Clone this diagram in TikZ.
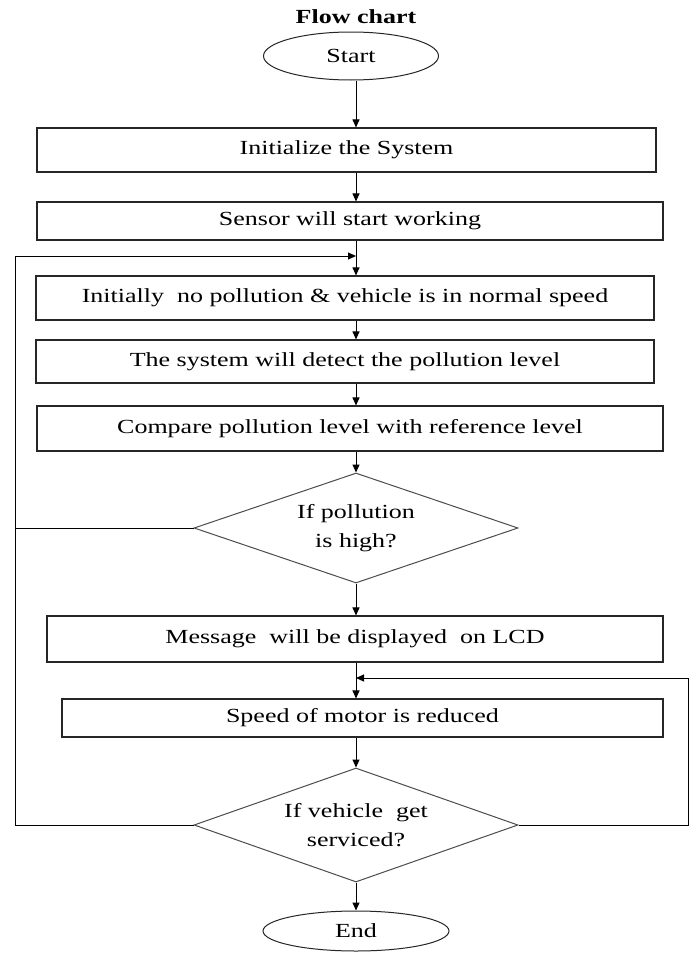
\documentclass[tikz,border=0pt]{standalone}
\usepackage{fontspec}
\setmainfont{Liberation Serif}[FakeStretch=1.3]
\usetikzlibrary{shapes.geometric,arrows.meta}

\tikzset{
  txt/.style={font=\fontsize{20}{29}\selectfont, inner sep=0pt, align=center},
  block/.style={txt, draw=black!85, line width=1.1pt, rectangle},
  oval/.style={txt, draw=black!85, line width=1pt, ellipse},
  decide/.style={txt, draw=black!70, line width=1pt, diamond, aspect=3},
  flow/.style={line width=1pt, -{Triangle[length=8pt,width=7pt]}},
  link/.style={line width=1pt}
}

\begin{document}
\begin{tikzpicture}[x=1pt, y=-1pt]
\fill[white] (0,0) rectangle (688,953);
\useasboundingbox (0,0) rectangle (688,953);
\coordinate (axis) at (356,0);
\coordinate (loopL) at (15,0);
\coordinate (loopR) at (688,0);
\coordinate (join1) at (356,256);
\coordinate (join2) at (356,678);
%Nodes
\node[txt, font=\fontsize{20}{22}\selectfont\bfseries] (title) at (356,17) {Flow chart};
\node[oval, minimum width=175pt, minimum height=48pt] (start) at (351,56) {Start};
\node[block, minimum width=619pt, minimum height=44pt] (init) at (346.5,150) {Initialize the System};
\node[block, minimum width=626pt, minimum height=38pt] (sensor) at (350,221) {Sensor will start working};
\node[block, minimum width=618pt, minimum height=44pt] (normal) at (345,298) {Initially \ no pollution \& vehicle is in normal speed};
\node[block, minimum width=618pt, minimum height=43pt] (detect) at (345,361.5) {The system will detect the pollution level};
\node[block, minimum width=626pt, minimum height=45pt] (compare) at (350,428.5) {Compare pollution level with reference level};
\node[decide, minimum width=324pt, minimum height=110pt] (dec1) at (356,528) {If pollution\\is high?};
\node[block, minimum width=616pt, minimum height=46pt] (msg) at (355,639) {Message \ will be displayed \ on LCD};
\node[block, minimum width=601pt, minimum height=38pt] (motor) at (362.5,718) {Speed of motor is reduced};
\node[decide, minimum width=324pt, minimum height=114pt] (dec2) at (356,825) {If vehicle \ get\\serviced?};
\node[oval, minimum width=186pt, minimum height=40pt] (end) at (356,931) {End};
%Arrows
\draw[flow] (start.south -| axis) -- (init.north -| axis);
\draw[flow] (init.south -| axis) -- (sensor.north -| axis);
\draw[flow] (sensor.south -| axis) -- (normal.north -| axis);
\draw[flow] (normal.south -| axis) -- (detect.north -| axis);
\draw[flow] (detect.south -| axis) -- (compare.north -| axis);
\draw[flow] (compare.south -| axis) -- (dec1.north);
\draw[flow] (dec1.south) -- (msg.north -| axis);
\draw[flow] (msg.south -| axis) -- (motor.north -| axis);
\draw[flow] (motor.south -| axis) -- (dec2.north);
\draw[flow] (dec2.south) -- (end.north);
%Loops
\draw[link] (dec1.west) -- (dec1.west -| loopL);
\draw[flow] (dec2.west) -- (dec2.west -| loopL) |- (join1);
\draw[flow] (dec2.east) -- (dec2.east -| loopR) |- (join2);
\end{tikzpicture}
\end{document}
